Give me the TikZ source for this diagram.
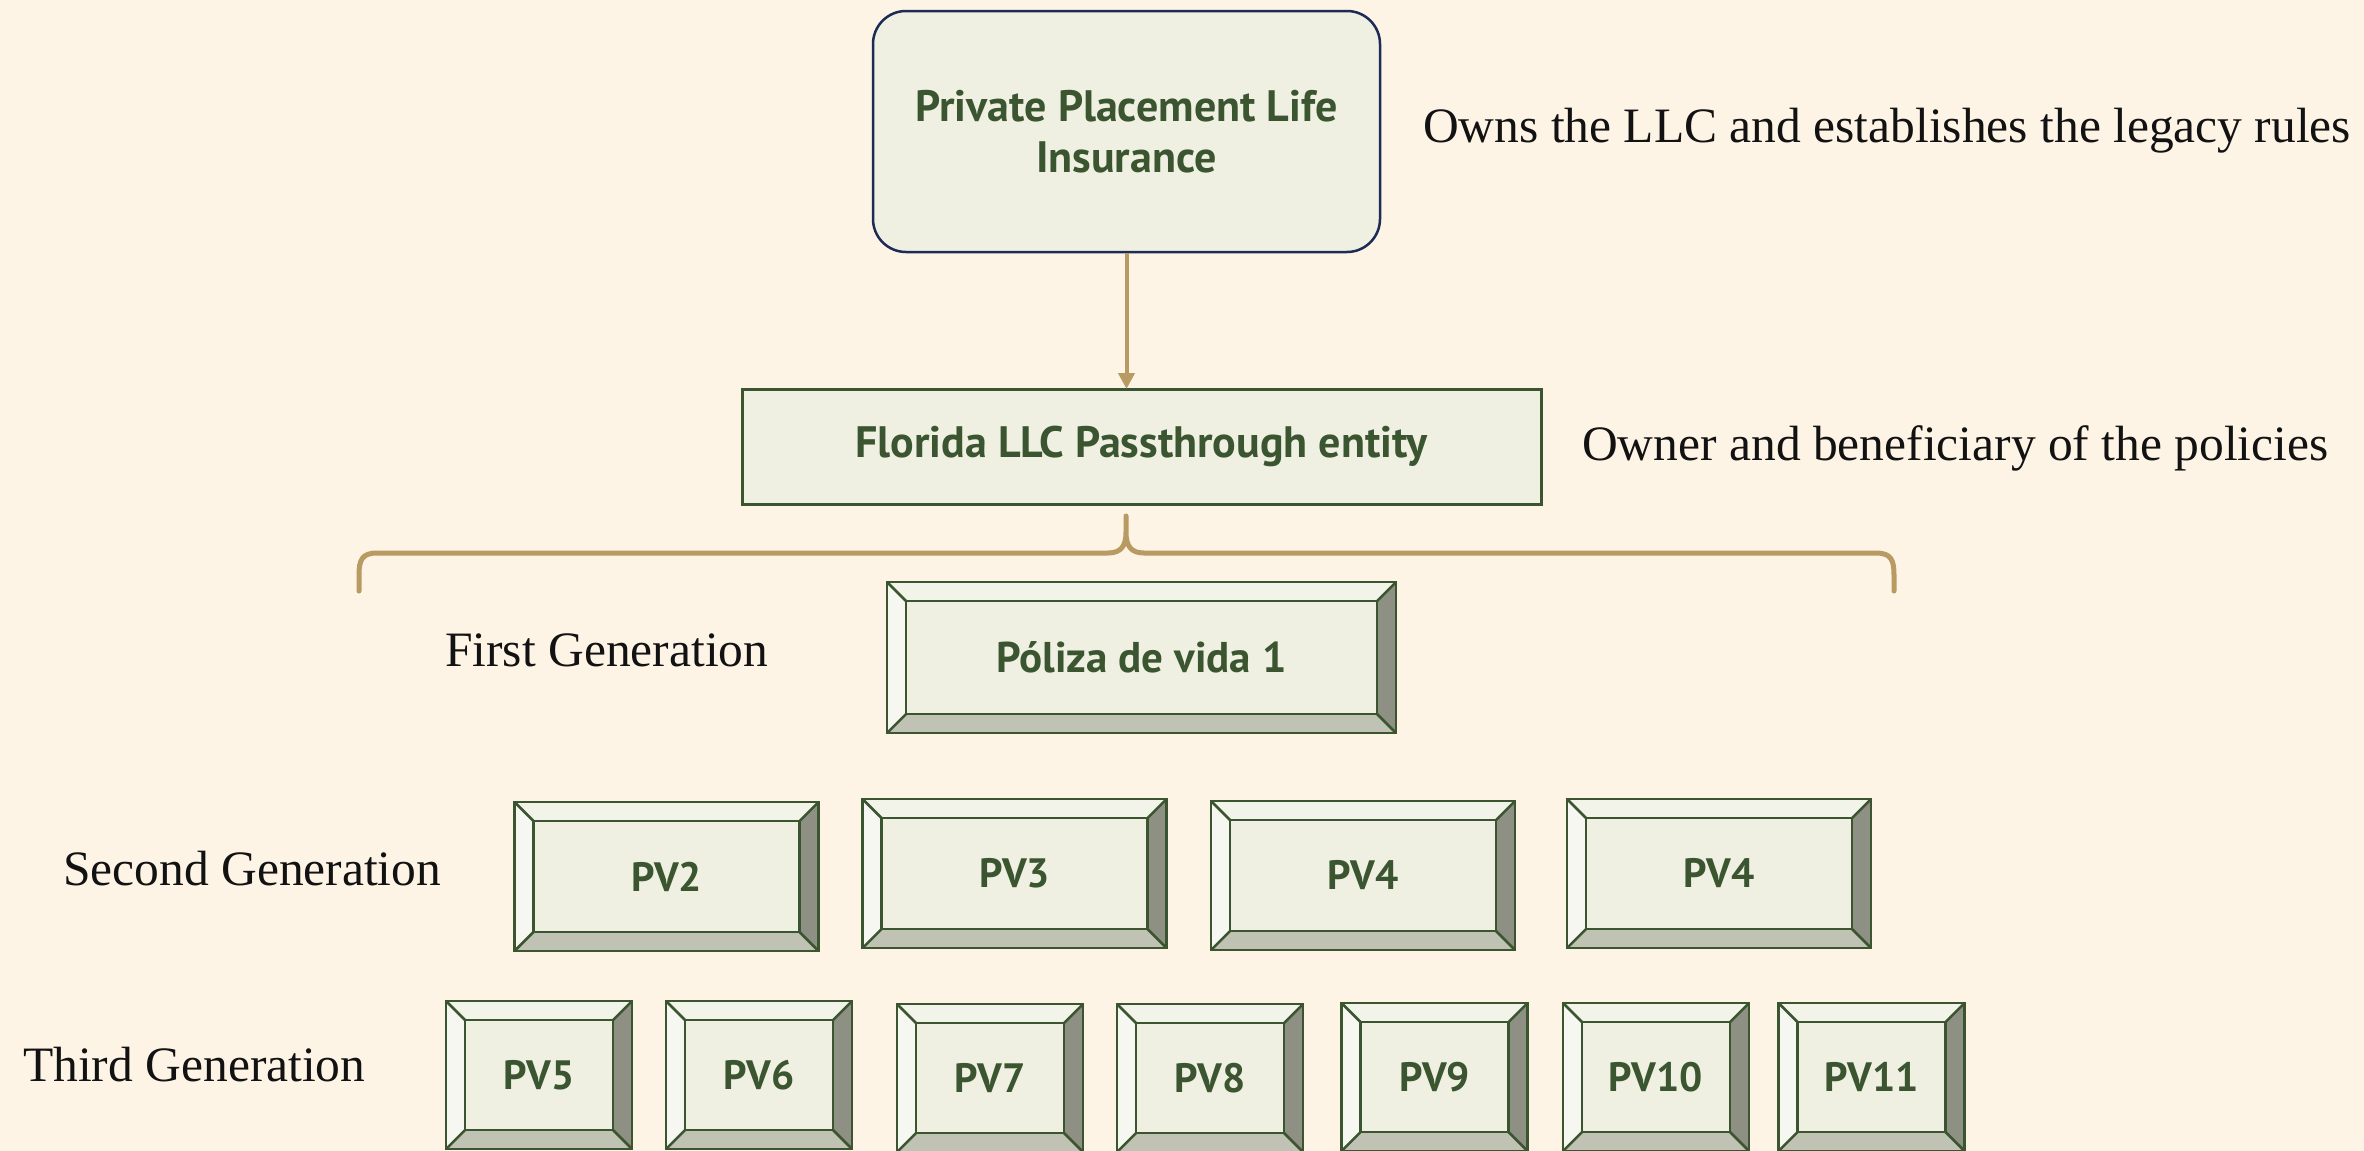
\documentclass[tikz,border=0pt]{standalone}
\usepackage{fontspec}
\setmainfont{Liberation Serif}
\newfontfamily\boxfont{PT Sans}
\usetikzlibrary{arrows.meta}
\definecolor{bg}{HTML}{FDF4E6}
\definecolor{face}{HTML}{EFF0E2}
\definecolor{bevtop}{HTML}{F2F4EA}
\definecolor{bevleft}{HTML}{F6F7F1}
\definecolor{bevright}{HTML}{8F9084}
\definecolor{bevbot}{HTML}{C0C2B3}
\definecolor{dgreen}{HTML}{3A5530}
\definecolor{navy}{HTML}{1C2C57}
\definecolor{tanc}{HTML}{B89A62}
\tikzset{
  boxtext/.style={font=\boxfont\bfseries\fontsize{41}{50}\selectfont, text=dgreen},
  bigtext/.style={font=\boxfont\bfseries\fontsize{44}{51}\selectfont},
  sidelabel/.style={font=\fontsize{49.5}{56}\selectfont, text=black!93, anchor=base west, inner sep=0pt},
  plbox/.style={boxtext, bigtext, draw=navy, line width=2.5pt, fill=face, rounded corners=33pt,
    minimum width=507pt, minimum height=241pt, align=center},
  llcbox/.style={boxtext, bigtext, draw=dgreen, line width=3pt, fill=face,
    minimum width=799pt, minimum height=115pt},
  bevel/.style={boxtext, fill=face, draw=dgreen, line width=2.5pt, inner sep=0pt,
    path picture={
      \path (path picture bounding box.north west) coordinate (@nw)
            (path picture bounding box.north east) coordinate (@ne)
            (path picture bounding box.south east) coordinate (@se)
            (path picture bounding box.south west) coordinate (@sw);
      \path ([shift={(19,19)}]@nw) coordinate (@inw)
            ([shift={(-19,19)}]@ne) coordinate (@ine)
            ([shift={(-19,-19)}]@se) coordinate (@ise)
            ([shift={(19,-19)}]@sw) coordinate (@isw);
      \fill[bevtop] (@nw) -- (@ne) -- (@ine) -- (@inw) -- cycle;
      \fill[bevleft] (@nw) -- (@inw) -- (@isw) -- (@sw) -- cycle;
      \fill[bevright] (@ne) -- (@se) -- (@ise) -- (@ine) -- cycle;
      \fill[bevbot] (@sw) -- (@isw) -- (@ise) -- (@se) -- cycle;
      \draw[dgreen, line width=2.5pt, line join=miter] (@inw) rectangle (@ise);
      \draw[dgreen, line width=2.5pt] (@nw) -- (@inw) (@ne) -- (@ine) (@se) -- (@ise) (@sw) -- (@isw);
    }},
  gen1/.style={bevel, font=\boxfont\bfseries\fontsize{43}{50}\selectfont, minimum width=509pt, minimum height=151pt},
  gen2/.style={bevel, minimum width=304pt, minimum height=149pt},
  gen3/.style={bevel, minimum width=186pt, minimum height=148pt},
  connector/.style={draw=tanc, line width=4pt, -{Triangle[length=16pt,width=16pt]}},
  bracec/.style={draw=tanc, line width=5pt}
}
\begin{document}
\begin{tikzpicture}[x=1pt,y=-1pt]
\useasboundingbox (0,0) rectangle (2364,1151);
\fill[bg] (0,0) rectangle (2364,1151);

\node[plbox] (ppli) at (1126.5,131.5) {Private Placement Life\\Insurance};
\node[llcbox] (llc) at (1141.5,446.5) {Florida LLC Passthrough entity};
\coordinate (arrowend) at (1126.5,389);
\draw[connector] (ppli.south -| arrowend) -- (arrowend);

\node[sidelabel] (ownslbl) at (1423,142) {Owns the LLC and establishes the legacy rules};
\node[sidelabel] (ownerlbl) at (1582,460) {Owner and beneficiary of the policies};

% brace
\coordinate (bracetip) at (1126,516);
\draw[bracec, line cap=round]
  (359,591) -- (359,575) .. controls (359,560) and (362,553) .. (377,553)
  -- (1108,553) .. controls (1121,553) and (1126,546) .. (1126,532) -- (bracetip)
  (1126,532) .. controls (1126,546) and (1131,553) .. (1144,553)
  -- (1876,553) .. controls (1891,553) and (1894,560) .. (1894,575) -- (1894,591);

\node[sidelabel] (g1lbl) at (445,666) {First Generation};
\node[sidelabel] (g2lbl) at (63,885) {Second Generation};
\node[sidelabel] (g3lbl) at (23,1081) {Third Generation};

\node[gen1] (pv1) at (1141.5,657.5) {Póliza de vida 1};

\node[gen2] (pv2) at (666.5,876.5) {PV2};
\node[gen2] (pv3) at (1014.5,873.5) {PV3};
\node[gen2] (pv4) at (1363,875.5) {PV4};
\node[gen2] (pv4b) at (1719,873.5) {PV4};

\node[gen3] (pv5) at (539,1075) {PV5};
\node[gen3] (pv6) at (759,1075) {PV6};
\node[gen3] (pv7) at (990,1078) {PV7};
\node[gen3] (pv8) at (1210,1078) {PV8};
\node[gen3] (pv9) at (1434.5,1077) {PV9};
\node[gen3] (pv10) at (1656,1077) {PV10};
\node[gen3] (pv11) at (1871.5,1077) {PV11};
\end{tikzpicture}
\end{document}
